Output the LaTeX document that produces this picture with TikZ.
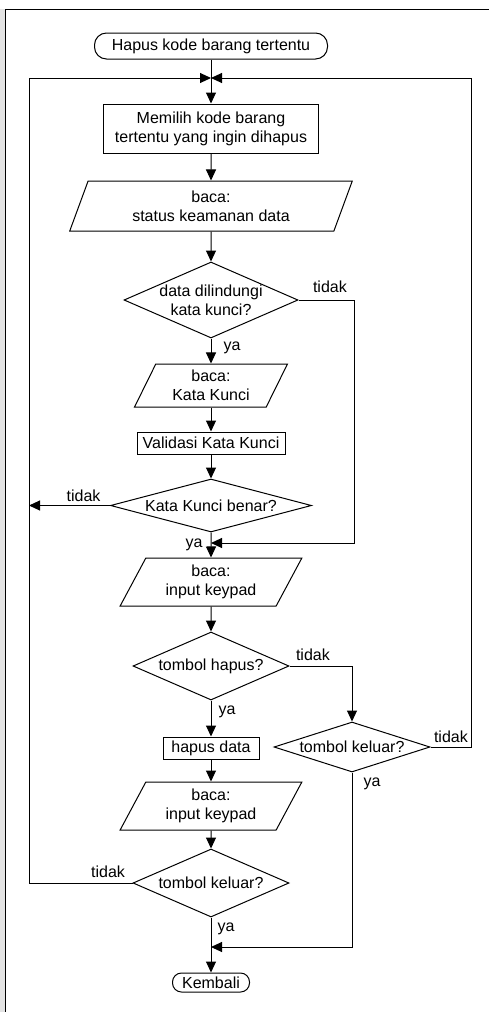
\documentclass[tikz,border=0pt]{standalone}
\usepackage{fontspec}
\setmainfont{Liberation Sans}
\usepackage{tikz}
\usetikzlibrary{shapes.geometric, arrows.meta}
\usetikzlibrary{positioning}
\tikzstyle{proc} = [rectangle, draw=black, line width=1pt, align=center, inner sep=2pt]
\tikzstyle{term} = [rectangle, rounded corners=12pt, draw=black, line width=1pt, inner sep=2pt]
\tikzstyle{inout} = [trapezium, trapezium stretches=true, trapezium left angle=70, trapezium right angle=110, draw=black, line width=1pt, align=center, inner sep=1pt]
\tikzstyle{decision} = [diamond, draw=black, line width=1pt, align=center, inner sep=-4pt]
\tikzstyle{line} = [line width=1pt]
\tikzstyle{arrow} = [line width=1pt, -{Triangle[length=11pt, width=10pt]}]
\tikzstyle{lbl} = [inner sep=0pt]

\begin{document}
\begin{tikzpicture}[x=1pt, y=-1pt, font=\fontsize{16}{19}\selectfont]
\useasboundingbox (0,0) rectangle (489,1012);
% page frame
\fill[gray!22] (0,9) rectangle (4.5,1012);
\draw[line] (5,1012) -- (5,9) -- (489,9);

% main column
\node (start) [term, minimum width=233pt, minimum height=26pt] at (211,46) {Hapus kode barang tertentu};
\node (pilih) [proc, minimum width=215pt, minimum height=49pt, node distance=82.5pt, below of=start] {Memilih kode barang\\tertentu yang ingin dihapus};
\node (bacastatus) [inout, minimum width=283pt, minimum height=50pt, node distance=77.5pt, below of=pilih] {baca:\\status keamanan data};
\node (lindung) [decision, aspect=2.29, minimum width=174pt, minimum height=76pt, node distance=94pt, below of=bacastatus] {data dilindungi\\kata kunci?};
\node (bacakunci) [inout, trapezium left angle=65, trapezium right angle=115, minimum width=153pt, minimum height=43pt, node distance=85.5pt, below of=lindung] {baca:\\Kata Kunci};
\node (validasi) [proc, minimum width=148pt, minimum height=22pt, node distance=57.5pt, below of=bacakunci] {Validasi Kata Kunci};
\node (benar) [decision, aspect=3.79, minimum width=201pt, minimum height=53pt, node distance=62.5pt, below of=validasi] {Kata Kunci benar?};
\node (bacakey1) [inout, trapezium left angle=63, trapezium right angle=117, minimum width=182pt, minimum height=48pt, node distance=76.5pt, below of=benar] {baca:\\input keypad};
\node (tomhapus) [decision, aspect=2.29, minimum width=156pt, minimum height=68pt, node distance=84pt, below of=bacakey1] {tombol hapus?};
\node (hapus) [proc, minimum width=96pt, minimum height=22pt, node distance=82pt, below of=tomhapus] {hapus data};
\node (bacakey2) [inout, trapezium left angle=63, trapezium right angle=117, minimum width=182pt, minimum height=48pt, node distance=58pt, below of=hapus] {baca:\\input keypad};
\node (tomkeluar2) [decision, aspect=2.29, minimum width=156pt, minimum height=68pt, node distance=77pt, below of=bacakey2] {tombol keluar?};
\node (kembali) [term, rounded corners=9pt, minimum width=77pt, minimum height=19pt, inner sep=0pt, node distance=99.5pt, below of=tomkeluar2] {Kembali};
% side branch
\node (tomkeluar1) [decision, aspect=3.12, minimum width=156pt, minimum height=50pt, node distance=81pt, below of=tomhapus, xshift=141pt] {tombol keluar?};

% junction points
\coordinate (m1) at (211,78);
\coordinate (lt) at (29,78);
\coordinate (rt) at (471,78);
\coordinate (m2) at (211,543);
\coordinate (r1) at (354,543);
\coordinate (m3) at (211,947);

\draw[arrow] (start) -- (pilih);
\draw[arrow] (pilih) -- (bacastatus);
\draw[arrow] (bacastatus) -- (lindung);
\draw[arrow] (lindung.south) node[lbl, anchor=base west, xshift=12pt, yshift=-12pt] {ya} -- (bacakunci);
\draw[arrow] (lindung.east) node[lbl, anchor=base west, xshift=14pt, yshift=8pt] {tidak} -| (r1) -- (m2);
\draw[arrow] (bacakunci) -- (validasi);
\draw[arrow] (validasi) -- (benar);
\draw[arrow] (benar.west) node[lbl, anchor=base east, xshift=-9pt, yshift=4pt] {tidak} -- (benar.west -| lt);
\draw[arrow] (benar.south) node[lbl, anchor=base east, xshift=-8pt, yshift=-15pt] {ya} -- (bacakey1);
\draw[arrow] (bacakey1) -- (tomhapus);
\draw[arrow] (tomhapus.south) node[lbl, anchor=base west, xshift=7pt, yshift=-14pt] {ya} -- (hapus);
\draw[arrow] (tomhapus.east) node[lbl, anchor=base west, xshift=6pt, yshift=6pt] {tidak} -| (tomkeluar1.north);
\draw[arrow] (hapus) -- (bacakey2);
\draw[arrow] (bacakey2) -- (tomkeluar2);
\draw[arrow] (tomkeluar2.south) node[lbl, anchor=base west, xshift=6pt, yshift=-14pt] {ya} -- (kembali);
\draw[arrow] (tomkeluar2.west) node[lbl, anchor=base east, xshift=-7pt, yshift=6pt] {tidak} -| (lt) -- (m1);
\draw[arrow] (tomkeluar1.east) node[lbl, anchor=base west, xshift=3pt, yshift=5pt] {tidak} -| (rt) -- (m1);
\draw[arrow] (tomkeluar1.south) node[lbl, anchor=base west, xshift=11pt, yshift=-14pt] {ya} |- (m3);
\end{tikzpicture}
\end{document}
